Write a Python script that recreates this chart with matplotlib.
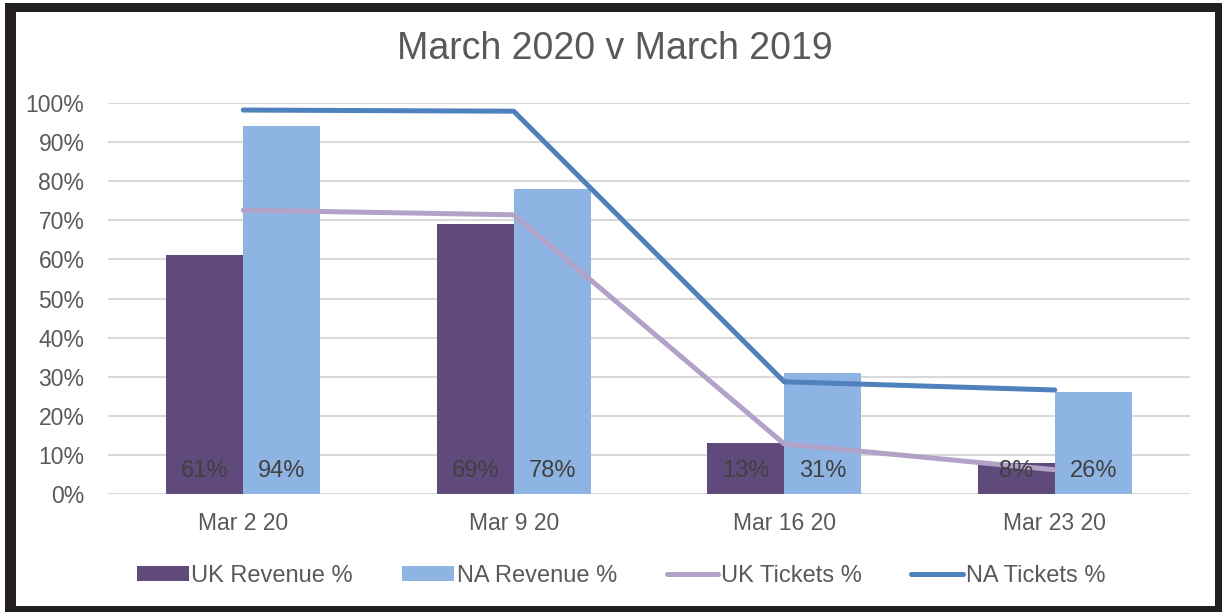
import numpy as np
import matplotlib.pyplot as plt
from matplotlib.patches import Rectangle, Patch
from matplotlib.lines import Line2D
from matplotlib.ticker import PercentFormatter

plt.rcParams['font.family'] = ['Liberation Sans', 'DejaVu Sans']

# data
weeks = ["Mar 2 20", "Mar 9 20", "Mar 16 20", "Mar 23 20"]
uk_revenue = [0.61, 0.69, 0.13, 0.08]
na_revenue = [0.94, 0.78, 0.31, 0.26]
uk_tickets = [0.726, 0.714, 0.128, 0.062]
na_tickets = [0.982, 0.979, 0.287, 0.266]
uk_labels = ["61%", "69%", "13%", "8%"]
na_labels = ["94%", "78%", "31%", "26%"]

c_ukrev = "#604a7b"
c_narev = "#8eb4e3"
c_uktix = "#b3a2c7"
c_natix = "#4f81bd"
txt = "#595959"

fig = plt.figure(figsize=(12.22, 6.12), dpi=100)
W, H = 1222, 612

# dark frame round the chart
fig.patches.append(Rectangle((5 / W, 0), 1, (H - 3) / H, transform=fig.transFigure,
                             facecolor="#231f20", edgecolor="none", zorder=-10))
fig.patches.append(Rectangle((16 / W, 6 / H), (1215 - 16) / W, (606 - 12) / H,
                             transform=fig.transFigure, facecolor="white",
                             edgecolor="none", zorder=-9))

ax = fig.add_axes([108 / W, 1 - 494 / H, (1190 - 108) / W, (494 - 103) / H])
ax.patch.set_alpha(0)

x = np.arange(len(weeks))
bw = 0.285

ax.bar(x - bw / 2, uk_revenue, bw, color=c_ukrev, zorder=2)
ax.bar(x + bw / 2, na_revenue, bw, color=c_narev, zorder=2)
ax.plot(x, uk_tickets, color=c_uktix, lw=3.6, solid_capstyle="round",
        solid_joinstyle="round", zorder=3)
ax.plot(x, na_tickets, color=c_natix, lw=3.6, solid_capstyle="round",
        solid_joinstyle="round", zorder=3)

for i in range(len(weeks)):
    ax.text(x[i] - bw / 2, 0.06, uk_labels[i], ha="center", va="center",
            fontsize=17, color="#404040", zorder=4)
    ax.text(x[i] + bw / 2, 0.06, na_labels[i], ha="center", va="center",
            fontsize=17, color="#404040", zorder=4)

ax.set_xlim(-0.5, 3.5)
ax.set_ylim(0, 1.0)
ax.set_yticks(np.arange(0, 1.01, 0.1))
ax.yaxis.set_major_formatter(PercentFormatter(1.0, decimals=0))
ax.set_xticks(x)
ax.set_xticklabels(weeks)
ax.tick_params(axis="y", length=0, labelsize=16.5, labelcolor=txt, pad=17)
ax.tick_params(axis="x", length=0, labelsize=16.5, labelcolor=txt, pad=13)
ax.grid(axis="y", color="#d9d9d9", lw=1.5, zorder=0)
ax.set_axisbelow(True)
for s in ax.spines.values():
    s.set_visible(False)

fig.text(615 / W, 1 - 49 / H, "March 2020 v March 2019", ha="center", va="center",
         fontsize=27, color=txt)

handles = [Patch(facecolor=c_ukrev), Patch(facecolor=c_narev),
           Line2D([], [], color=c_uktix, lw=3.6, solid_capstyle="round"),
           Line2D([], [], color=c_natix, lw=3.6, solid_capstyle="round")]
names = ["UK Revenue %", "NA Revenue %", "UK Tickets %", "NA Tickets %"]
fig.legend(handles, names, loc="center", bbox_to_anchor=(621 / W, 1 - 576 / H),
           ncol=4, frameon=False, fontsize=17, labelcolor=txt,
           handlelength=2.2, handleheight=0.6, handletextpad=0.1,
           columnspacing=2.1)

fig.savefig("out.png", dpi=100)
